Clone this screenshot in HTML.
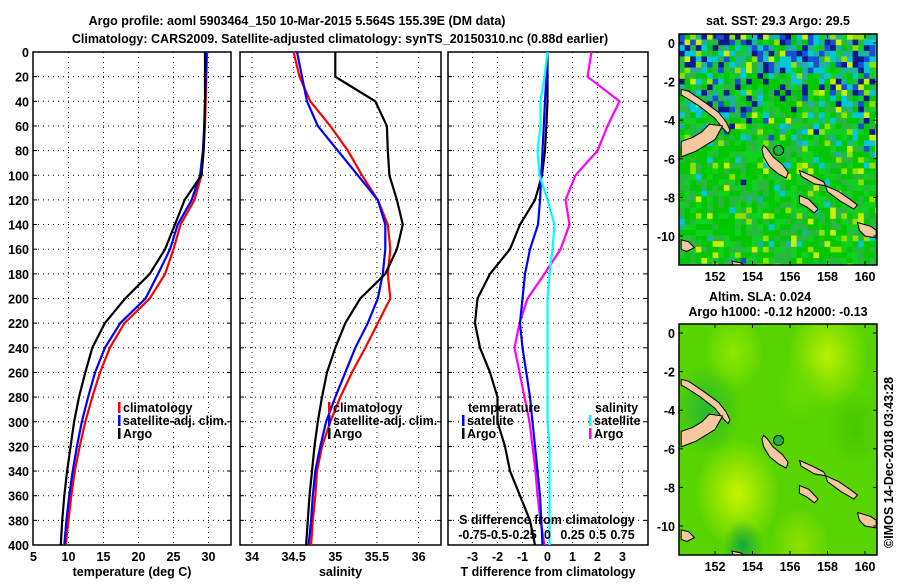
<!DOCTYPE html>
<html><head><meta charset="utf-8"><style>
body{margin:0;background:#fff;width:900px;height:580px;overflow:hidden}
svg text{font-family:"Liberation Sans",sans-serif;font-weight:bold;font-size:12.5px;fill:#000}
</style></head><body>
<svg id="s" width="900" height="580" viewBox="0 0 900 580" xmlns="http://www.w3.org/2000/svg">
<text x="297" y="25" text-anchor="middle" font-size="13.5">Argo profile: aoml 5903464_150 10-Mar-2015 5.564S 155.39E (DM data)</text>
<text x="340" y="43" text-anchor="middle" font-size="13.5">Climatology: CARS2009. Satellite-adjusted climatology: synTS_20150310.nc (0.88d earlier)</text>
<text x="778" y="25" text-anchor="middle">sat. SST: 29.3 Argo: 29.5</text>
<text x="760" y="301" text-anchor="middle">Altim. SLA: 0.024</text>
<text x="778" y="316" text-anchor="middle">Argo h1000: -0.12 h2000: -0.13</text>
<text transform="translate(893,548) rotate(-90)" font-weight="normal" font-size="12">©IMOS 14-Dec-2018 03:43:28</text>
</svg>
<script>
const depths=[0,20,40,60,80,100,120,140,160,180,200,220,240,260,280,300,320,340,360,380,400];
const tArgo=[29.5,29.5,29.5,29.4,29.3,29.0,26.6,25.2,23.8,21.6,18.1,15.2,13.4,12.4,11.5,10.8,10.3,9.8,9.4,9.1,8.9];
const tClim=[29.8,29.7,29.6,29.5,29.3,29.0,28.0,26.0,25.0,23.8,21.6,18.0,15.9,14.5,13.4,12.4,11.6,10.9,10.4,10.0,9.6];
const tSat=[29.7,29.6,29.5,29.4,29.2,28.8,27.6,25.6,24.5,22.8,21.0,17.4,15.2,13.8,12.8,11.9,11.2,10.6,10.1,9.7,9.4];
const sArgo=[35.0,35.0,35.48,35.62,35.63,35.65,35.74,35.81,35.74,35.6,35.3,35.12,35.0,34.9,34.84,34.79,34.75,34.72,34.69,34.67,34.65];
const sClim=[34.5,34.57,34.7,34.94,35.15,35.32,35.51,35.63,35.66,35.63,35.66,35.51,35.36,35.2,35.06,34.94,34.84,34.78,34.76,34.73,34.71];
const sSat=[34.54,34.6,34.66,34.79,35.03,35.27,35.51,35.6,35.6,35.57,35.51,35.39,35.24,35.12,35.0,34.89,34.82,34.76,34.73,34.71,34.68];
const dTSat=[0,-0.05,-0.1,-0.15,-0.2,-0.25,-0.3,-0.38,-0.7,-0.9,-1.0,-1.1,-1.0,-0.85,-0.7,-0.6,-0.5,-0.4,-0.3,-0.25,-0.2];
const dTArgo=[0,0,0,-0.05,-0.1,-0.22,-0.5,-1.1,-1.5,-2.3,-2.8,-2.9,-2.7,-2.3,-2.0,-2.0,-1.7,-1.5,-1.1,-0.7,-0.5];
const dSSat=[0,-0.03,-0.07,-0.07,-0.1,-0.08,0,0.07,0.05,0.02,0,0,0,0,0,0,0.02,0.02,0.02,0.02,0.02];
const dSArgo=[0.44,0.4,0.72,0.6,0.5,0.28,0.18,0.22,0.13,-0.03,-0.2,-0.28,-0.33,-0.28,-0.23,-0.18,-0.15,-0.12,-0.1,-0.07,-0.03];
const yTicks=[0,20,40,60,80,100,120,140,160,180,200,220,240,260,280,300,320,340,360,380,400];
const NS='http://www.w3.org/2000/svg',S=document.getElementById('s');
function mk(t,a,p){const e=document.createElementNS(NS,t);for(const k in a)e.setAttribute(k,a[k]);(p||S).appendChild(e);return e;}
function txt(x,y,s,anc,name,p){const e=mk('text',{x:x,y:y,'text-anchor':anc||'middle'},p);e.textContent=s;return e;}
const Y0=52,Y1=545;const yS=d=>Y0+(Y1-Y0)*d/400;
function panel(x0,x1,name,xs,xt,xlab,xlabel){
  const g=mk('g',{});
  yTicks.forEach(d=>{if(d>0&&d<400)mk('line',{x1:x0,x2:x1,y1:yS(d),y2:yS(d),stroke:'#000','stroke-dasharray':'1,4'},g);
    mk('line',{x1:x0,x2:x0+4,y1:yS(d),y2:yS(d),stroke:'#000'},g);mk('line',{x1:x1-4,x2:x1,y1:yS(d),y2:yS(d),stroke:'#000'},g);});
  xt.forEach((v,i)=>{const x=xs(v);if(x>x0+1&&x<x1-1)mk('line',{x1:x,x2:x,y1:Y0,y2:Y1,stroke:'#000','stroke-dasharray':'1,4'},g);
    if(xlab[i]!=null)txt(x,561,xlab[i],'middle',name+'-xtick',g);});
  mk('rect',{x:x0,y:Y0,width:x1-x0,height:Y1-Y0,fill:'none',stroke:'#000','stroke-width':1.5},g);
  txt((x0+x1)/2,576,xlabel,'middle',name+'-xlabel',g);
  return g;}
function line(g,vals,xs,col,name){const p=vals.map((v,i)=>xs(v).toFixed(1)+','+yS(depths[i]).toFixed(1)).join(' ');
  const e=mk('polyline',{points:p,fill:'none',stroke:col,'stroke-width':2.2},g);}
function leg(g,x,y,col,label,name){const e=mk('g',{},g);
  mk('rect',{x:x,y:y-10,width:2.5,height:11,fill:col},e);txt(x+5,y,label,'start',name+'-label',e);}
const xT=v=>33.5+(v-5)*7;
const g1=panel(33,231,'temperature-panel',xT,[5,10,15,20,25,30],['5','10','15','20','25','30'],'temperature (deg C)');
yTicks.forEach(d=>txt(29,yS(d)+5,String(d),'end','depth-tick',g1));
line(g1,tClim,xT,'#f00','temp-climatology-line');line(g1,tSat,xT,'#00f','temp-satellite-line');line(g1,tArgo,xT,'#000','temp-argo-line');
leg(g1,118,412,'#f00','climatology','legend-climatology');leg(g1,118,425,'#00f','satellite-adj. clim.','legend-satellite');leg(g1,118,438,'#000','Argo','legend-argo');
const xS=v=>252+(v-34)*83.3;
const g2=panel(240,441,'salinity-panel',xS,[34,34.5,35,35.5,36],['34','34.5','35','35.5','36'],'salinity');
line(g2,sClim,xS,'#f00','sal-climatology-line');line(g2,sSat,xS,'#00f','sal-satellite-line');line(g2,sArgo,xS,'#000','sal-argo-line');
leg(g2,328,412,'#f00','climatology','legend2-climatology');leg(g2,328,425,'#00f','satellite-adj. clim.','legend2-satellite');leg(g2,328,438,'#000','Argo','legend2-argo');
const xD=v=>547.5+v*25, xDS=v=>547.5+v*100;
const g3=panel(448,648,'difference-panel',xD,[-3,-2,-1,0,1,2,3],['-3','-2','-1','0','1','2','3'],'T difference from climatology');
line(g3,dTArgo,xD,'#000','dT-argo-line');line(g3,dSArgo,xDS,'#f0f','dS-argo-line');line(g3,dTSat,xD,'#00f','dT-satellite-line');line(g3,dSSat,xDS,'#0ff','dS-satellite-line');
txt(468,412,'temperature','start','legend3-temp-title',g3);leg(g3,462,425,'#00f','satellite','legend3-temp-sat');leg(g3,462,438,'#000','Argo','legend3-temp-argo');
txt(595,412,'salinity','start','legend3-sal-title',g3);leg(g3,589,425,'#0ff','satellite','legend3-sal-sat');leg(g3,589,438,'#f0f','Argo','legend3-sal-argo');
txt(547,524,'S difference from climatology','middle','s-axis-title',g3);
[['-0.75',-0.75],['-0.5',-0.5],['-0.25',-0.25],['0',0],['0.25',0.25],['0.5',0.5],['0.75',0.75]].forEach(a=>txt(xDS(a[1]),539,a[0],'middle','s-axis-tick',g3));
const MX0=679,MX1=877;
const lonX=l=>715+(l-152)*18.75;
function hash(i,j,k){let h=(i*374761393+j*668265263+k*2147483647)|0;h=(h^(h>>>13))*1274126177|0;return ((h^(h>>>16))>>>0)/4294967296;}
const land=[
 [[150.2,-2.4],[150.6,-2.5],[151.5,-3.1],[152.2,-3.6],[152.6,-4.1],[152.8,-4.5],[152.7,-4.7],[152.4,-4.4],[152.0,-3.9],[151.2,-3.3],[150.4,-2.8],[150.2,-2.7]],
 [[150.2,-5.9],[151.0,-5.6],[151.5,-5.3],[152.0,-5.0],[152.4,-4.3],[151.7,-4.2],[151.3,-4.6],[150.8,-4.9],[150.2,-5.1]],
 [[154.6,-5.3],[154.8,-5.5],[155.1,-5.9],[155.6,-6.3],[155.9,-6.7],[155.8,-7.0],[155.4,-6.8],[154.9,-6.4],[154.6,-5.9],[154.5,-5.5]],
 [[156.5,-6.6],[157.2,-6.9],[157.8,-7.2],[157.9,-7.4],[157.3,-7.3],[156.6,-6.9]],
 [[157.9,-7.4],[158.6,-7.7],[159.2,-8.1],[159.6,-8.4],[159.4,-8.6],[158.7,-8.2],[158.0,-7.7]],
 [[156.5,-7.9],[157.0,-8.1],[157.5,-8.6],[157.3,-8.8],[156.9,-8.5],[156.5,-8.3]],
 [[159.6,-9.3],[160.3,-9.5],[160.6,-9.7],[160.6,-10.1],[160.0,-10.0],[159.7,-9.7]],
 [[150.2,-10.2],[150.6,-10.3],[150.9,-10.6],[150.5,-10.8],[150.2,-10.7]],
 [[152.9,-11.3],[153.4,-11.4],[153.6,-11.6],[153.0,-11.6]]];
function drawMap(yOff,name,kind){
  const latY=la=>43+yOff-la*19.3;
  const g=mk('g',{});
  const top=34+yOff,bot=265+yOff;
  const cid='c'+yOff;const cp=mk('clipPath',{id:cid},g);mk('rect',{x:MX0,y:top,width:MX1-MX0,height:bot-top},cp);
  const im=mk('g',{'clip-path':'url(#'+cid+')'},g);
  if(kind==='sst'){
    const cs=5.6;
    for(let j=0;j*cs<bot-top;j++)for(let i=0;i*cs<MX1-MX0;i++){
      const r=hash(i,j,1),r2=hash(i,j,7);const yy=j*cs;let c;
      const pb=yy<30?0.4:yy<75?0.18:yy<110?0.05:0.005;
      const pc=yy<40?0.3:yy<110?0.2:0.04;
      if(r<pb)c=r2<0.6?'#0a1a8c':'#1a50d0';else if(r<pb+pc)c=r2<0.5?'#00c8d8':'#20b0a0';
      else if(r>0.9)c=r2<0.5?'#c8f000':'#90e000';else c=r2<0.45?'#00c800':(r2<0.75?'#28b840':'#10d020');
      mk('rect',{x:MX0+i*cs,y:top+yy,width:cs+0.3,height:cs+0.3,fill:c},im);}
  }else{
    mk('rect',{x:MX0,y:top,width:198,height:231,fill:'#58d400'},im);
    const blobs=[[158,-1.2,40,'#b8f000'],[153.2,-8.3,42,'#c8f400'],[153,-1,30,'#90e800'],[156.5,-11,30,'#90e000'],[151.5,-4,35,'#28b830'],[153.5,-11,20,'#18a840'],[159.5,-5,30,'#48c800'],[156.5,-3,25,'#68dc00']];
    const df=mk('defs',{},g);
    blobs.forEach((b,k)=>{const gr=mk('radialGradient',{id:'b'+k},df);mk('stop',{offset:'0','stop-color':b[3],'stop-opacity':1},gr);mk('stop',{offset:'1','stop-color':b[3],'stop-opacity':0},gr);
      mk('ellipse',{cx:lonX(b[0]),cy:latY(b[1]),rx:b[2],ry:b[2]*1.3,fill:'url(#b'+k+')'},im);});
  }
  land.forEach(p=>mk('polygon',{points:p.map(q=>lonX(q[0]).toFixed(1)+','+latY(q[1]).toFixed(1)).join(' '),fill:'#f5c8a0',stroke:'#000','stroke-width':1},im));
  mk('circle',{cx:lonX(155.39),cy:latY(-5.564),r:5,fill:'#20b040',stroke:'#000'},im);
  mk('rect',{x:MX0,y:top,width:MX1-MX0,height:bot-top,fill:'none',stroke:'#000','stroke-width':1.5},g);
  [152,154,156,158,160].forEach(l=>{const x=lonX(l);mk('line',{x1:x,x2:x,y1:bot,y2:bot-4,stroke:'#000'},g);mk('line',{x1:x,x2:x,y1:top,y2:top+4,stroke:'#000'},g);txt(x,bot+16,String(l),'middle',name+'-lon-tick',g);});
  [0,-2,-4,-6,-8,-10].forEach(la=>{const y=latY(la);mk('line',{x1:MX0,x2:MX0+4,y1:y,y2:y,stroke:'#000'},g);mk('line',{x1:MX1-4,x2:MX1,y1:y,y2:y,stroke:'#000'},g);txt(MX0-4,y+5,String(la),'end',name+'-lat-tick',g);});
}
drawMap(0,'sst-map','sst');drawMap(290,'sla-map','sla');
</script>
</body></html>
